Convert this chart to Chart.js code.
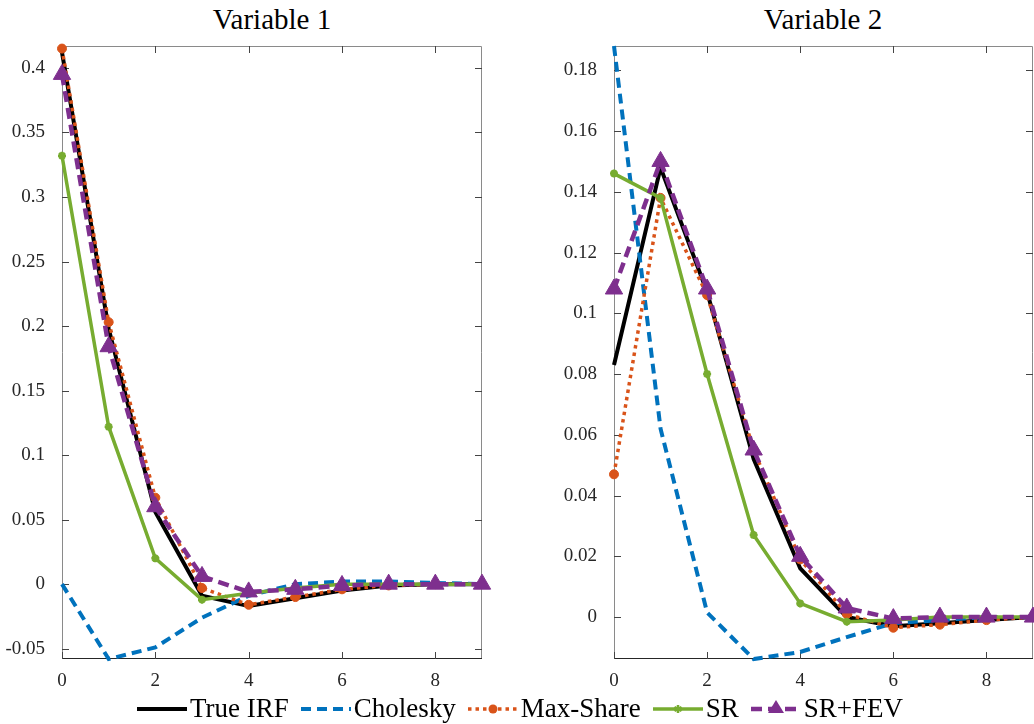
<!DOCTYPE html>
<html lang="en">
<head>
<meta charset="UTF-8">
<title>IRF comparison</title>
<script src="https://cdn.jsdelivr.net/npm/chart.js"></script>
<style>
    body { margin: 0; background: #ffffff; width: 1034px; height: 724px; overflow: hidden; position: relative; font-family: "Liberation Serif", "DejaVu Serif", serif; }
    .panel { position: absolute; top: 0; height: 700px; width: 500px; }
    #wrap1 { left: 0; }
    #wrap2 { left: 552px; }
    .title { position: absolute; top: 3px; width: 300px; text-align: center; font-size: 29px; color: #000; }
    #legend { position: absolute; left: 0; top: 693px; width: 1040px; display: flex; justify-content: center; align-items: center; font-size: 27px; color: #000; }
    .item { display: flex; align-items: center; margin: 0 6px; }
    .item svg { margin-right: 3px; }
</style>
</head>
<body>
<div class="title" style="left:122px">Variable 1</div>
<div class="title" style="left:673px">Variable 2</div>
<div class="panel" id="wrap1"><canvas id="chart1"></canvas></div>
<div class="panel" id="wrap2"><canvas id="chart2"></canvas></div>
<div id="legend"></div>

<script>
    // horizons and ticks
    const horizons = [0, 1, 2, 3, 4, 5, 6, 7, 8, 9];
    const xTicks = [0, 2, 4, 6, 8];
    const yTicks1 = [-0.05, 0, 0.05, 0.1, 0.15, 0.2, 0.25, 0.3, 0.35, 0.4];
    const yLabels1 = ['-0.05', '0', '0.05', '0.1', '0.15', '0.2', '0.25', '0.3', '0.35', '0.4'];
    const yTicks2 = [0, 0.02, 0.04, 0.06, 0.08, 0.1, 0.12, 0.14, 0.16, 0.18];
    const yLabels2 = ['0', '0.02', '0.04', '0.06', '0.08', '0.1', '0.12', '0.14', '0.16', '0.18'];

    // Variable 1
    const trueIrf1 = [0.412, 0.198, 0.056, -0.009, -0.017, -0.011, -0.005, -0.001, 0.000, 0.000];
    const cholesky1 = [0.000, -0.058, -0.049, -0.026, -0.009, 0.000, 0.002, 0.002, 0.001, 0.000];
    const maxShare1 = [0.415, 0.203, 0.067, -0.003, -0.016, -0.010, -0.004, -0.001, 0.000, 0.000];
    const sr1 = [0.332, 0.122, 0.020, -0.012, -0.007, -0.003, 0.000, 0.000, 0.000, 0.000];
    const srFev1 = [0.395, 0.184, 0.060, 0.006, -0.006, -0.004, -0.001, 0.000, 0.000, 0.000];

    // Variable 2
    const trueIrf2 = [0.083, 0.148, 0.107, 0.052, 0.016, 0.000, -0.003, -0.002, -0.001, 0.000];
    const cholesky2 = [0.188, 0.062, 0.0015, -0.0138, -0.0115, -0.0066, -0.002, -0.001, 0.000, 0.000];
    const maxShare2 = [0.047, 0.138, 0.106, 0.055, 0.019, 0.001, -0.0035, -0.0025, -0.001, 0.000];
    const sr2 = [0.146, 0.138, 0.080, 0.027, 0.0045, -0.0015, -0.001, 0.000, 0.000, 0.000];
    const srFev2 = [0.108, 0.150, 0.108, 0.055, 0.020, 0.003, -0.0005, 0.000, 0.000, 0.000];

    const series = [
        { label: 'True IRF', color: '#000000', width: 4, dash: [], marker: false, radius: 0 },
        { label: 'Cholesky', color: '#0072BD', width: 4, dash: [10, 6], marker: false, radius: 0 },
        { label: 'Max-Share', color: '#D95319', width: 3.5, dash: [3.5, 4], marker: 'circle', radius: 4.5 },
        { label: 'SR', color: '#77AC30', width: 3.5, dash: [], marker: 'star', radius: 4 },
        { label: 'SR+FEV', color: '#7E2F8E', width: 4.5, dash: [11, 6], marker: 'triangle', radius: 10 }
    ];

    const font = '"Liberation Serif", "DejaVu Serif", serif';

    // box with inward ticks on all four sides
    const framePlugin = {
        id: 'frame',
        beforeDatasetsDraw(chart) {
            const { ctx, chartArea: a, scales } = chart;
            ctx.save();
            ctx.lineWidth = 1;
            ctx.strokeStyle = '#8a8a8a';
            ctx.beginPath();
            ctx.moveTo(a.left + 0.5, a.bottom);
            ctx.lineTo(a.left + 0.5, a.top + 0.5);
            ctx.lineTo(a.right - 0.5, a.top + 0.5);
            ctx.lineTo(a.right - 0.5, a.bottom);
            ctx.stroke();
            ctx.strokeStyle = '#262626';
            ctx.beginPath();
            ctx.moveTo(a.left, a.bottom - 0.5);
            ctx.lineTo(a.right, a.bottom - 0.5);
            ctx.stroke();
            const len = 7;
            ctx.beginPath();
            scales.x.ticks.forEach(t => {
                const px = Math.round(scales.x.getPixelForValue(t.value)) + 0.5;
                ctx.moveTo(px, a.bottom);
                ctx.lineTo(px, a.bottom - len);
                ctx.moveTo(px, a.top);
                ctx.lineTo(px, a.top + len);
            });
            scales.y.ticks.forEach(t => {
                const py = Math.round(scales.y.getPixelForValue(t.value)) + 0.5;
                ctx.moveTo(a.left, py);
                ctx.lineTo(a.left + len, py);
                ctx.moveTo(a.right, py);
                ctx.lineTo(a.right - len, py);
            });
            ctx.strokeStyle = '#444444';
            ctx.stroke();
            ctx.restore();
        }
    };

    function makeChart(id, arrays, yMin, yMax, yTicks, yLabels, padRight) {
        const datasets = series.map((s, i) => ({
            label: s.label,
            data: horizons.map((h, k) => ({ x: h, y: arrays[i][k] })),
            borderColor: s.color,
            backgroundColor: s.color,
            borderWidth: s.width,
            borderDash: s.dash,
            pointStyle: s.marker || 'circle',
            pointRadius: s.radius,
            pointBorderWidth: s.marker === 'star' ? 2.5 : 1,
            pointBorderColor: s.color,
            pointBackgroundColor: s.color,
            tension: 0,
            order: series.length - i,
            clip: false
        }));

        return new Chart(document.getElementById(id), {
            type: 'line',
            data: { datasets: datasets },
            plugins: [framePlugin],
            options: {
                responsive: true,
                maintainAspectRatio: false,
                animation: false,
                devicePixelRatio: 1,
                layout: { padding: { top: 46, right: padRight, left: 0, bottom: 0 } },
                plugins: { legend: { display: false }, tooltip: { enabled: false } },
                scales: {
                    x: {
                        type: 'linear',
                        min: 0,
                        max: 9,
                        grid: { display: false },
                        border: { display: false },
                        afterBuildTicks: scale => { scale.ticks = xTicks.map(v => ({ value: v })); },
                        afterFit: scale => { scale.height = 41; },
                        ticks: {
                            autoSkip: false,
                            maxRotation: 0,
                            padding: 3,
                            color: '#262626',
                            font: { family: font, size: 19 },
                            callback: v => String(v)
                        }
                    },
                    y: {
                        min: yMin,
                        max: yMax,
                        grid: { display: false },
                        border: { display: false },
                        afterBuildTicks: scale => { scale.ticks = yTicks.map(v => ({ value: v })); },
                        afterFit: scale => { scale.width = 62; },
                        ticks: {
                            autoSkip: false,
                            padding: 9,
                            color: '#262626',
                            font: { family: font, size: 19 },
                            callback: (v, i) => yLabels[i]
                        }
                    }
                }
            }
        });
    }

    makeChart('chart1', [trueIrf1, cholesky1, maxShare1, sr1, srFev1], -0.058, 0.417, yTicks1, yLabels1, 18);
    makeChart('chart2', [trueIrf2, cholesky2, maxShare2, sr2, srFev2], -0.0138, 0.188, yTicks2, yLabels2, 19);

    // legend: line samples with markers, text as real text
    const legend = document.getElementById('legend');
    series.forEach(s => {
        const item = document.createElement('div');
        item.className = 'item';
        let mk = '';
        if (s.marker === 'circle') {
            mk = `<circle cx="25" cy="12" r="4.5" fill="${s.color}"/>`;
        } else if (s.marker === 'star') {
            mk = `<path d="M25 8 L25 16 M21.5 10 L28.5 14 M21.5 14 L28.5 10" stroke="${s.color}" stroke-width="2.5"/>`;
        } else if (s.marker === 'triangle') {
            mk = `<polygon points="25,3 33,16 17,16" fill="${s.color}"/>`;
        }
        item.innerHTML =
            `<svg width="50" height="24"><line x1="0" y1="12" x2="50" y2="12" stroke="${s.color}" stroke-width="${s.width}" stroke-dasharray="${s.dash.join(' ')}"/>${mk}</svg><span>${s.label}</span>`;
        legend.appendChild(item);
    });
</script>
</body>
</html>
